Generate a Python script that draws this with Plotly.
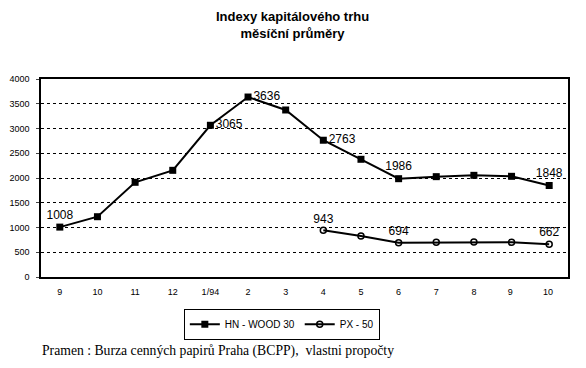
import plotly.graph_objects as go

categories = ["9", "10", "11", "12", "1/94", "2", "3", "4", "5", "6", "7", "8", "9 ", "10 "]
hn_wood = [1008, 1218, 1913, 2155, 3065, 3636, 3374, 2763, 2378, 1986, 2027, 2054, 2034, 1848]
px50 = [None, None, None, None, None, None, None, 943, 828, 694, 700, 705, 700, 662]
hn_labels = ["1008", "", "", "", "3065", "3636", "", "2763", "", "1986", "", "", "", "1848"]
hn_pos = ["top center", "top center", "top center", "top center", "middle right", "middle right",
          "top center", "middle right", "top center", "top center", "top center", "top center",
          "top center", "top center"]
px_labels = ["", "", "", "", "", "", "", "943", "", "694", "", "", "", "662"]
y_ticks = [0, 500, 1000, 1500, 2000, 2500, 3000, 3500, 4000]

fig = go.Figure()
fig.add_trace(go.Scatter(
    x=categories, y=hn_wood, name="HN - WOOD 30",
    mode="lines+markers+text", text=hn_labels, textposition=hn_pos,
    textfont=dict(family="Arial, Liberation Sans", size=12, color="black"),
    line=dict(color="black", width=2),
    marker=dict(symbol="square", size=7, color="black"),
))
fig.add_trace(go.Scatter(
    x=categories, y=px50, name="PX - 50",
    mode="lines+markers+text", text=px_labels, textposition="top center",
    textfont=dict(family="Arial, Liberation Sans", size=12, color="black"),
    line=dict(color="black", width=2),
    marker=dict(symbol="circle-open", size=6, color="black", line=dict(width=1.5)),
))

# page body has an 8px margin, so the figure is drawn 8px smaller and offset
fig.update_layout(
    width=578, height=360,
    margin=dict(l=33, r=18, t=71, b=91, autoexpand=False),
    paper_bgcolor="white", plot_bgcolor="white",
    font=dict(family="Arial, Liberation Sans", color="black"),
    showlegend=True,
    legend=dict(orientation="h", x=0.457, xanchor="center", y=-0.16, yanchor="top",
                bordercolor="black", borderwidth=1,
                font=dict(size=10, family="Arial, Liberation Sans"),
                itemwidth=30, tracegroupgap=0),
    annotations=[
        dict(text="<b>Indexy kapitálového trhu</b><br><b>měsíční průměry</b>",
             xref="paper", yref="paper", x=0.478, y=1.275, xanchor="center", yanchor="middle",
             showarrow=False, font=dict(size=13, family="Arial, Liberation Sans")),
        dict(text="Pramen : Burza cenných papirů Praha (BCPP),  vlastni propočty",
             xref="paper", yref="paper", x=-0.002, y=-0.375, xanchor="left", yanchor="middle",
             showarrow=False, font=dict(size=13.7, family="Liberation Serif, Times New Roman")),
    ],
)

fig.update_xaxes(type="category", categoryorder="array", categoryarray=categories,
                 range=[-0.5, 13.5], showgrid=False, showline=True, linecolor="black",
                 linewidth=1.5, mirror=True, ticks="", tickfont=dict(size=9),
                 ticklen=0, ticklabelstandoff=5)
fig.update_yaxes(range=[0, 4000], tickvals=y_ticks, showgrid=True, gridcolor="black",
                 griddash="dot", gridwidth=1.2, showline=True, linecolor="black",
                 linewidth=1.5, mirror=True, ticks="outside", ticklen=3,
                 tickfont=dict(size=9), zeroline=False, ticklabelstandoff=5)

fig.write_html("out.html")
